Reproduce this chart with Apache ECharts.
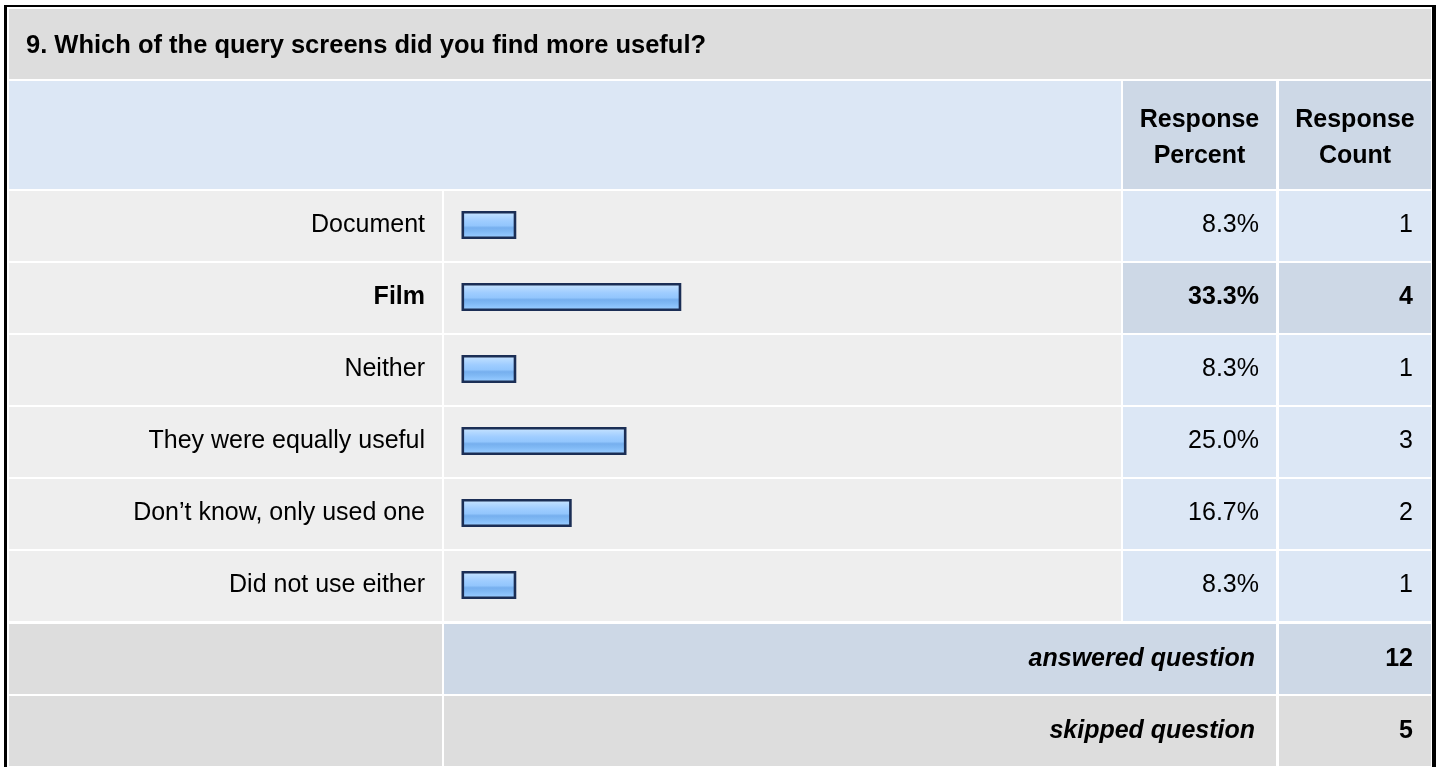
<!DOCTYPE html>
<html>
<head>
<meta charset="utf-8">
<script src="https://cdn.jsdelivr.net/npm/echarts@6/dist/echarts.min.js"></script>
<style>
html,body{margin:0;padding:0;background:#fff;}
#chart{width:1440px;height:767px;}
</style>
</head>
<body>
<div id="chart"></div>
<script>
// ---- data ----
const questionTitle = '9. Which of the query screens did you find more useful?';
const categories = ['Document', 'Film', 'Neither', 'They were equally useful', 'Don\u2019t know, only used one', 'Did not use either'];
const responsePercent = [8.3, 33.3, 8.3, 25.0, 16.7, 8.3];
const responseCount = [1, 4, 1, 3, 2, 1];
const headerLabels = ['Response\nPercent', 'Response\nCount'];
const summaryLabels = ['answered question', 'skipped question'];
const summaryValues = [12, 5];

// ---- layout / style ----
const FONT = '"Liberation Sans", Arial, Helvetica, sans-serif';
const FS = 25;
const C_TITLE = '#dddddd', C_HEAD = '#dce7f5', C_HEAD2 = '#cdd8e6', C_ROW = '#eeeeee';
const X0 = 9, X1 = 442, X2 = 444, X3 = 1121, X4 = 1123, X5 = 1276, X6 = 1279, X7 = 1431;
const ROW0 = 191, ROWSTEP = 72, ROWH = 70;
const hi = responseCount.indexOf(Math.max.apply(null, responseCount));

const g = [];
function rect(x, y, w, h, fill) { g.push({ type: 'rect', z: 1, silent: true, shape: { x: x, y: y, width: w, height: h }, style: { fill: fill } }); }
function txt(s, x, y, align, font) { g.push({ type: 'text', z: 20, silent: true, style: { text: s, x: x, y: y, fill: '#000', font: font, textAlign: align, textVerticalAlign: 'middle', lineHeight: 36 } }); }

// outer frame
rect(4, 5, 1432, 800, '#000');
rect(7, 7, 1425, 800, '#fff');
// title
rect(X0, 9, X7 - X0, 70, C_TITLE);
txt(questionTitle, 26, 46, 'left', 'bold 25.5px ' + FONT);
// header
rect(X0, 81, X3 - X0, 108, C_HEAD);
rect(X4, 81, X5 - X4, 108, C_HEAD2);
rect(X6, 81, X7 - X6, 108, C_HEAD2);
txt(headerLabels[0], (X4 + X5) / 2, 138, 'center', 'bold ' + FS + 'px ' + FONT);
txt(headerLabels[1], (X6 + X7) / 2, 138, 'center', 'bold ' + FS + 'px ' + FONT);
// data rows
categories.forEach(function (c, i) {
  const y = ROW0 + ROWSTEP * i;
  const side = i === hi ? C_HEAD2 : C_HEAD;
  rect(X0, y, X1 - X0, ROWH, C_ROW);
  rect(X2, y, X3 - X2, ROWH, C_ROW);
  rect(X4, y, X5 - X4, ROWH, side);
  rect(X6, y, X7 - X6, ROWH, side);
});
// summary rows
summaryLabels.forEach(function (s, j) {
  const y = 624 + ROWSTEP * j;
  const fill = j === 0 ? C_HEAD2 : C_TITLE;
  rect(X0, y, X1 - X0, ROWH, C_TITLE);
  rect(X2, y, X5 - X2, ROWH, fill);
  rect(X6, y, X7 - X6, ROWH, fill);
  txt(s, 1255, y + 35, 'right', 'italic bold ' + FS + 'px ' + FONT);
  txt(String(summaryValues[j]), 1413, y + 35, 'right', 'bold ' + FS + 'px ' + FONT);
});

const gridLeft = 461.5, gridW = 660;
const axisRight = gridLeft + gridW;

function richLabel(fmt) {
  return function (v, i) { return (i === hi ? '{b|' : '{n|') + fmt(v, i) + '}'; };
}
const rich = {
  n: { fontSize: FS, fontFamily: FONT, color: '#000' },
  b: { fontSize: FS, fontFamily: FONT, color: '#000', fontWeight: 'bold' }
};
function catAxis(pos, margin, fmt) {
  return {
    type: 'category', data: categories, inverse: true, position: pos,
    axisLine: { show: false }, axisTick: { show: false }, splitLine: { show: false },
    z: 10,
    axisLabel: { interval: 0, margin: margin, align: 'right', formatter: richLabel(fmt), rich: rich }
  };
}

const chart = echarts.init(document.getElementById('chart'), null, { renderer: 'canvas' });
chart.setOption({
  animation: false,
  backgroundColor: '#fff',
  graphic: { elements: g },
  grid: { left: gridLeft, top: 189, width: gridW, height: 432, containLabel: false },
  xAxis: { type: 'value', min: 0, max: 100, show: false },
  yAxis: [
    catAxis('left', gridLeft - 425, function (v) { return v; }),
    catAxis('right', 1259 - axisRight, function (v, i) { return responsePercent[i].toFixed(1) + '%'; }),
    catAxis('right', 1413 - axisRight, function (v, i) { return String(responseCount[i]); })
  ],
  series: [{
    type: 'bar', data: responsePercent, barWidth: 28, z: 10, silent: true,
    itemStyle: {
      borderColor: '#1b2e55', borderWidth: 2.6,
      color: new echarts.graphic.LinearGradient(0, 0, 0, 1, [
        { offset: 0, color: '#cfe7ff' },
        { offset: 0.18, color: '#b4d9ff' },
        { offset: 0.35, color: '#9fcdff' },
        { offset: 0.52, color: '#93c6fd' },
        { offset: 0.6, color: '#76afee' },
        { offset: 0.72, color: '#7fb8f4' },
        { offset: 0.86, color: '#8fc5fd' },
        { offset: 1, color: '#a6d3ff' }
      ])
    }
  }]
});
</script>
</body>
</html>
